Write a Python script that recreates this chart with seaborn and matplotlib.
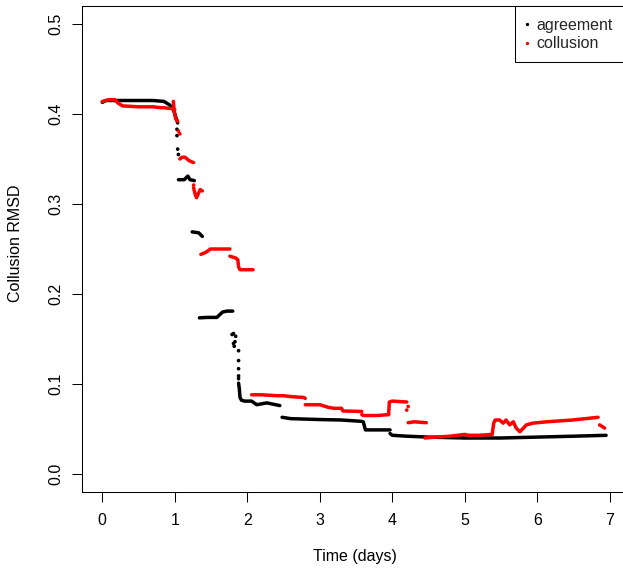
import matplotlib
matplotlib.use("Agg")
import matplotlib.pyplot as plt
from matplotlib.patches import Rectangle
from matplotlib.lines import Line2D
import seaborn as sns
import pandas as pd

# ---------------- data ----------------
series_names = ["agreement", "collusion"]
series_colors = ["#000000", "#FF0000"]

# runs of densely sampled points, one list per continuous run (days, RMSD)
agreement_t = [
    [0.00, 0.05, 0.40, 0.70, 0.85, 0.93, 0.98, 1.02, 1.04],
    [1.05, 1.13, 1.18, 1.21, 1.27],
    [1.24, 1.33, 1.38],
    [1.34, 1.45, 1.58, 1.62, 1.66, 1.72, 1.80],
    [1.88, 1.89, 1.90, 1.92, 1.96, 2.06, 2.13, 2.27, 2.45],
    [2.48, 2.60, 3.00, 3.30, 3.58],
    [3.60, 3.62, 3.63, 3.97],
    [3.97, 4.00, 4.20, 4.50, 5.00, 5.50, 6.00, 6.50, 6.95],
]
agreement_v = [
    [0.413, 0.415, 0.415, 0.415, 0.414, 0.410, 0.405, 0.395, 0.390],
    [0.327, 0.327, 0.331, 0.327, 0.326],
    [0.269, 0.268, 0.264],
    [0.1735, 0.174, 0.174, 0.177, 0.180, 0.181, 0.181],
    [0.101, 0.095, 0.085, 0.082, 0.081, 0.081, 0.077, 0.079, 0.076],
    [0.063, 0.0615, 0.0605, 0.060, 0.0585],
    [0.058, 0.052, 0.049, 0.049],
    [0.045, 0.043, 0.042, 0.041, 0.040, 0.040, 0.041, 0.042, 0.043],
]
# isolated points
agreement_dot_t = [1.03, 1.03, 1.04, 1.05, 1.79, 1.81, 1.84, 1.83, 1.81, 1.82,
                   1.88, 1.88, 1.88, 1.88, 1.88]
agreement_dot_v = [0.383, 0.376, 0.361, 0.355, 0.155, 0.156, 0.153, 0.147, 0.145, 0.142,
                   0.137, 0.126, 0.117, 0.109, 0.106]

collusion_t = [
    [0.00, 0.10, 0.17, 0.22, 0.28, 0.50, 0.70, 0.80, 0.85, 0.95, 1.00],
    [0.98, 0.99, 1.01, 1.04],
    [1.07, 1.10, 1.14, 1.20, 1.26],
    [1.26, 1.28, 1.30, 1.35, 1.38],
    [1.36, 1.42, 1.46, 1.49, 1.65, 1.76],
    [1.76, 1.84, 1.87, 1.88, 1.90, 2.08],
    [2.06, 2.20, 2.40, 2.50, 2.60, 2.78, 2.80],
    [2.80, 3.00, 3.12, 3.20, 3.30, 3.32, 3.58],
    [3.58, 3.60, 3.80, 3.95],
    [3.95, 3.96, 4.00, 4.20],
    [4.22, 4.30, 4.47],
    [4.45, 4.60, 4.80, 5.00, 5.05, 5.20, 5.38],
    [5.38, 5.40, 5.42, 5.48, 5.53, 5.57, 5.62, 5.67, 5.71, 5.76, 5.81, 5.85,
     5.94, 6.13, 6.49, 6.84],
    [6.86, 6.93],
]
collusion_v = [
    [0.414, 0.416, 0.416, 0.412, 0.409, 0.408, 0.408, 0.407, 0.407, 0.406, 0.405],
    [0.414, 0.405, 0.395, 0.392],
    [0.350, 0.352, 0.352, 0.348, 0.346],
    [0.318, 0.311, 0.307, 0.316, 0.3145],
    [0.244, 0.246, 0.248, 0.250, 0.250, 0.250],
    [0.242, 0.240, 0.238, 0.230, 0.227, 0.227],
    [0.088, 0.088, 0.087, 0.087, 0.086, 0.085, 0.084],
    [0.077, 0.077, 0.074, 0.073, 0.073, 0.070, 0.0695],
    [0.066, 0.065, 0.065, 0.066],
    [0.066, 0.080, 0.081, 0.080],
    [0.057, 0.058, 0.057],
    [0.040, 0.041, 0.042, 0.044, 0.043, 0.043, 0.044],
    [0.045, 0.0565, 0.060, 0.060, 0.0565, 0.060, 0.0546, 0.058, 0.051, 0.047,
     0.051, 0.0546, 0.0565, 0.058, 0.060, 0.063],
    [0.0546, 0.051],
]
collusion_dot_t = [1.05, 1.07, 1.26, 4.20, 4.22]
collusion_dot_v = [0.381, 0.378, 0.321, 0.071, 0.075]

x_ticks = [0, 1, 2, 3, 4, 5, 6, 7]
y_ticks = [0.0, 0.1, 0.2, 0.3, 0.4, 0.5]
y_ticklabels = ["0.0", "0.1", "0.2", "0.3", "0.4", "0.5"]
x_label = "Time (days)"
y_label = "Collusion RMSD"

# ---------------- build tidy tables ----------------
rows = []
for name, ts, vs in [("agreement", agreement_t, agreement_v),
                     ("collusion", collusion_t, collusion_v)]:
    for k, (tt, vv) in enumerate(zip(ts, vs)):
        for a, b in zip(tt, vv):
            rows.append({"series": name, "run": f"{name}-{k}", "t": a, "v": b})
runs = pd.DataFrame(rows)

dots = pd.DataFrame({
    "series": ["agreement"] * len(agreement_dot_t) + ["collusion"] * len(collusion_dot_t),
    "t": agreement_dot_t + collusion_dot_t,
    "v": agreement_dot_v + collusion_dot_v,
})

# ---------------- figure ----------------
sns.set_theme(style="white")
plt.rcParams["font.family"] = ["Liberation Sans", "DejaVu Sans"]
plt.rcParams["font.size"] = 11.5

W, H = 623, 569
fig = plt.figure(figsize=(W / 100, H / 100), dpi=100)
ax = fig.add_axes([82 / W, 77 / H, (630 - 82) / W, (492 - 6) / H])

palette = dict(zip(series_names, series_colors))
sns.lineplot(data=runs, x="t", y="v", hue="series", units="run", estimator=None,
             sort=False, palette=palette, linewidth=2.5, legend=False, ax=ax)
sns.scatterplot(data=dots, x="t", y="v", hue="series", palette=palette, s=7,
                linewidth=0, legend=False, ax=ax)

ax.set_xlim(-0.28, 7.28)
ax.set_ylim(-0.02, 0.52)
ax.set_xticks(x_ticks)
ax.set_xticklabels([str(x) for x in x_ticks])
ax.set_yticks(y_ticks)
ax.set_yticklabels(y_ticklabels, rotation=90, va="center")
ax.tick_params(axis="both", direction="out", length=7.2, width=0.75, color="black",
               labelsize=11.5, labelcolor="black")
ax.tick_params(axis="x", pad=7.7)
ax.tick_params(axis="y", pad=6)
ax.tick_params(left=True, bottom=True)
for sp in ax.spines.values():
    sp.set_visible(True)
    sp.set_color("black")
    sp.set_linewidth(0.75)

ax.set_xlabel(x_label, fontsize=11.5, color="black")
ax.set_ylabel(y_label, fontsize=11.5, color="black")
ax.xaxis.set_label_coords((355 - 82) / 548, (12 - 77) / 486)
ax.xaxis.label.set_va("center")
ax.yaxis.set_label_coords((16 - 82) / 548, (569 - 243 - 77) / 486)
ax.yaxis.label.set_va("center")

# legend (box at the top-right corner of the plot region)
to_ax = lambda px, py: ((px - 82) / 548, (569 - py - 77) / 486)
x0, y0 = to_ax(515, 62)
x1, y1 = to_ax(640, 6)
ax.add_patch(Rectangle((x0, y0), x1 - x0, y1 - y0, transform=ax.transAxes,
                       facecolor="white", edgecolor="black", linewidth=0.75,
                       zorder=5, clip_on=False))
handles = [Line2D([], [], marker="o", linestyle="", color=c, markersize=2.4,
                  markeredgewidth=0) for c in series_colors]
lx, ly = to_ax(520, 18)
ax.legend(handles, series_names, loc="upper left", bbox_to_anchor=(lx, ly),
          bbox_transform=ax.transAxes, frameon=False, borderpad=0, borderaxespad=0,
          handlelength=0.9, handletextpad=0.12, labelspacing=0.2, fontsize=11.5)
ax.get_legend().set_zorder(6)

fig.savefig("out.png", dpi=100)
